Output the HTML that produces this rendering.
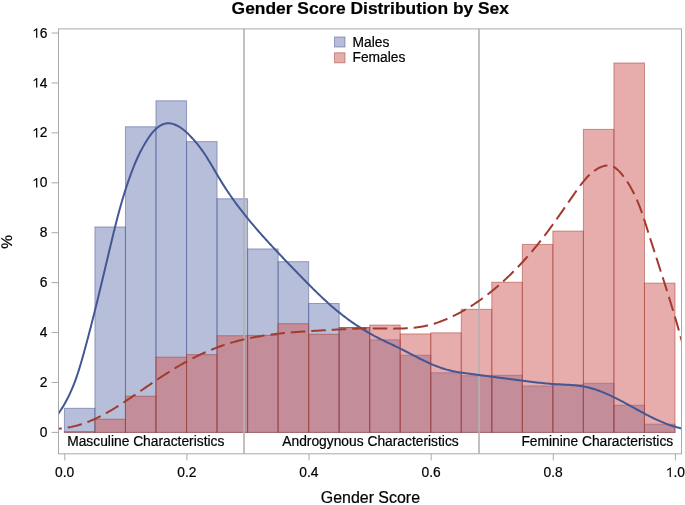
<!DOCTYPE html>
<html><head><meta charset="utf-8"><style>html,body{margin:0;padding:0;background:#fff;width:685px;height:505px;overflow:hidden}</style></head><body>
<svg width="685" height="505" viewBox="0 0 685 505" style="position:absolute;left:0;top:0;will-change:transform">
<style>text,.one{stroke:#000;stroke-width:0.2px}</style>
<rect x="0" y="0" width="685" height="505" fill="#fff"/>
<defs><clipPath id="c"><rect x="58.5" y="28.9" width="623.0" height="424.9"/></clipPath></defs>
<text x="370.3" y="14" text-anchor="middle" font-family='"Liberation Sans", sans-serif' font-weight="bold" font-size="17.4" fill="#000">Gender Score Distribution by Sex</text>
<g clip-path="url(#c)">
<rect x="64.40" y="408.31" width="30.53" height="24.09" fill="rgba(111,126,179,0.5)" stroke="rgba(68,86,148,0.5)" stroke-width="1"/>
<rect x="94.93" y="226.98" width="30.53" height="205.42" fill="rgba(111,126,179,0.5)" stroke="rgba(68,86,148,0.5)" stroke-width="1"/>
<rect x="125.46" y="126.76" width="30.53" height="305.64" fill="rgba(111,126,179,0.5)" stroke="rgba(68,86,148,0.5)" stroke-width="1"/>
<rect x="155.99" y="100.81" width="30.53" height="331.59" fill="rgba(111,126,179,0.5)" stroke="rgba(68,86,148,0.5)" stroke-width="1"/>
<rect x="186.52" y="141.62" width="30.53" height="290.78" fill="rgba(111,126,179,0.5)" stroke="rgba(68,86,148,0.5)" stroke-width="1"/>
<rect x="217.05" y="198.77" width="30.53" height="233.63" fill="rgba(111,126,179,0.5)" stroke="rgba(68,86,148,0.5)" stroke-width="1"/>
<rect x="247.58" y="248.94" width="30.53" height="183.46" fill="rgba(111,126,179,0.5)" stroke="rgba(68,86,148,0.5)" stroke-width="1"/>
<rect x="278.11" y="261.67" width="30.53" height="170.73" fill="rgba(111,126,179,0.5)" stroke="rgba(68,86,148,0.5)" stroke-width="1"/>
<rect x="308.64" y="303.48" width="30.53" height="128.92" fill="rgba(111,126,179,0.5)" stroke="rgba(68,86,148,0.5)" stroke-width="1"/>
<rect x="339.17" y="327.57" width="30.53" height="104.83" fill="rgba(111,126,179,0.5)" stroke="rgba(68,86,148,0.5)" stroke-width="1"/>
<rect x="369.70" y="339.85" width="30.53" height="92.55" fill="rgba(111,126,179,0.5)" stroke="rgba(68,86,148,0.5)" stroke-width="1"/>
<rect x="400.23" y="355.20" width="30.53" height="77.20" fill="rgba(111,126,179,0.5)" stroke="rgba(68,86,148,0.5)" stroke-width="1"/>
<rect x="430.76" y="372.75" width="30.53" height="59.65" fill="rgba(111,126,179,0.5)" stroke="rgba(68,86,148,0.5)" stroke-width="1"/>
<rect x="461.29" y="375.74" width="30.53" height="56.66" fill="rgba(111,126,179,0.5)" stroke="rgba(68,86,148,0.5)" stroke-width="1"/>
<rect x="491.82" y="375.24" width="30.53" height="57.16" fill="rgba(111,126,179,0.5)" stroke="rgba(68,86,148,0.5)" stroke-width="1"/>
<rect x="522.35" y="385.97" width="30.53" height="46.43" fill="rgba(111,126,179,0.5)" stroke="rgba(68,86,148,0.5)" stroke-width="1"/>
<rect x="552.88" y="384.73" width="30.53" height="47.67" fill="rgba(111,126,179,0.5)" stroke="rgba(68,86,148,0.5)" stroke-width="1"/>
<rect x="583.41" y="383.23" width="30.53" height="49.17" fill="rgba(111,126,179,0.5)" stroke="rgba(68,86,148,0.5)" stroke-width="1"/>
<rect x="613.94" y="405.24" width="30.53" height="27.16" fill="rgba(111,126,179,0.5)" stroke="rgba(68,86,148,0.5)" stroke-width="1"/>
<rect x="644.47" y="424.16" width="30.53" height="8.24" fill="rgba(111,126,179,0.5)" stroke="rgba(68,86,148,0.5)" stroke-width="1"/>
<rect x="64.40" y="431.65" width="30.53" height="0.75" fill="rgba(208,91,91,0.5)" stroke="rgba(162,58,46,0.5)" stroke-width="1"/>
<rect x="94.93" y="419.25" width="30.53" height="13.15" fill="rgba(208,91,91,0.5)" stroke="rgba(162,58,46,0.5)" stroke-width="1"/>
<rect x="125.46" y="396.21" width="30.53" height="36.19" fill="rgba(208,91,91,0.5)" stroke="rgba(162,58,46,0.5)" stroke-width="1"/>
<rect x="155.99" y="357.15" width="30.53" height="75.25" fill="rgba(208,91,91,0.5)" stroke="rgba(162,58,46,0.5)" stroke-width="1"/>
<rect x="186.52" y="354.65" width="30.53" height="77.75" fill="rgba(208,91,91,0.5)" stroke="rgba(162,58,46,0.5)" stroke-width="1"/>
<rect x="217.05" y="335.75" width="30.53" height="96.65" fill="rgba(208,91,91,0.5)" stroke="rgba(162,58,46,0.5)" stroke-width="1"/>
<rect x="247.58" y="335.43" width="30.53" height="96.97" fill="rgba(208,91,91,0.5)" stroke="rgba(162,58,46,0.5)" stroke-width="1"/>
<rect x="278.11" y="323.70" width="30.53" height="108.70" fill="rgba(208,91,91,0.5)" stroke="rgba(162,58,46,0.5)" stroke-width="1"/>
<rect x="308.64" y="334.31" width="30.53" height="98.09" fill="rgba(208,91,91,0.5)" stroke="rgba(162,58,46,0.5)" stroke-width="1"/>
<rect x="339.17" y="327.57" width="30.53" height="104.83" fill="rgba(208,91,91,0.5)" stroke="rgba(162,58,46,0.5)" stroke-width="1"/>
<rect x="369.70" y="325.07" width="30.53" height="107.33" fill="rgba(208,91,91,0.5)" stroke="rgba(162,58,46,0.5)" stroke-width="1"/>
<rect x="400.23" y="333.93" width="30.53" height="98.47" fill="rgba(208,91,91,0.5)" stroke="rgba(162,58,46,0.5)" stroke-width="1"/>
<rect x="430.76" y="332.81" width="30.53" height="99.59" fill="rgba(208,91,91,0.5)" stroke="rgba(162,58,46,0.5)" stroke-width="1"/>
<rect x="461.29" y="309.35" width="30.53" height="123.05" fill="rgba(208,91,91,0.5)" stroke="rgba(162,58,46,0.5)" stroke-width="1"/>
<rect x="491.82" y="282.27" width="30.53" height="150.13" fill="rgba(208,91,91,0.5)" stroke="rgba(162,58,46,0.5)" stroke-width="1"/>
<rect x="522.35" y="244.45" width="30.53" height="187.95" fill="rgba(208,91,91,0.5)" stroke="rgba(162,58,46,0.5)" stroke-width="1"/>
<rect x="552.88" y="231.10" width="30.53" height="201.30" fill="rgba(208,91,91,0.5)" stroke="rgba(162,58,46,0.5)" stroke-width="1"/>
<rect x="583.41" y="129.39" width="30.53" height="303.01" fill="rgba(208,91,91,0.5)" stroke="rgba(162,58,46,0.5)" stroke-width="1"/>
<rect x="613.94" y="62.99" width="30.53" height="369.41" fill="rgba(208,91,91,0.5)" stroke="rgba(162,58,46,0.5)" stroke-width="1"/>
<rect x="644.47" y="283.14" width="30.53" height="149.26" fill="rgba(208,91,91,0.5)" stroke="rgba(162,58,46,0.5)" stroke-width="1"/>
<line x1="244.0" y1="28.9" x2="244.0" y2="453.8" stroke="#b2b2b2" stroke-width="1.6"/>
<line x1="479.0" y1="28.9" x2="479.0" y2="453.8" stroke="#b2b2b2" stroke-width="1.6"/>
<path d="M56.47,416.28 L57.70,414.60 L58.88,412.93 L60.03,411.24 L61.14,409.55 L62.21,407.86 L63.25,406.16 L64.26,404.46 L65.23,402.75 L66.18,401.03 L67.09,399.31 L67.97,397.59 L68.83,395.86 L69.66,394.13 L70.46,392.39 L71.24,390.65 L72.00,388.90 L72.73,387.15 L73.44,385.39 L74.13,383.64 L74.80,381.87 L75.45,380.10 L76.09,378.33 L76.71,376.56 L77.31,374.78 L77.90,372.99 L78.48,371.21 L79.04,369.42 L79.60,367.62 L80.14,365.83 L80.68,364.03 L81.21,362.22 L81.73,360.41 L82.25,358.60 L82.76,356.79 L83.27,354.97 L83.77,353.15 L84.28,351.33 L84.78,349.51 L85.28,347.68 L85.78,345.85 L86.27,344.02 L86.76,342.18 L87.26,340.34 L87.75,338.50 L88.23,336.66 L88.72,334.81 L89.20,332.97 L89.69,331.12 L90.17,329.27 L90.65,327.41 L91.12,325.56 L91.60,323.70 L92.07,321.85 L92.54,319.99 L93.02,318.12 L93.49,316.26 L93.95,314.40 L94.42,312.53 L94.89,310.67 L95.35,308.80 L95.81,306.93 L96.27,305.06 L96.73,303.19 L97.19,301.32 L97.65,299.44 L98.11,297.57 L98.57,295.69 L99.02,293.82 L99.48,291.95 L99.93,290.07 L100.38,288.19 L100.83,286.32 L101.28,284.44 L101.73,282.56 L102.18,280.69 L102.63,278.81 L103.08,276.93 L103.53,275.06 L103.98,273.18 L104.42,271.31 L104.87,269.43 L105.31,267.55 L105.76,265.68 L106.21,263.81 L106.65,261.93 L107.09,260.06 L107.54,258.19 L107.98,256.32 L108.43,254.45 L108.87,252.58 L109.31,250.71 L109.76,248.84 L110.20,246.98 L110.65,245.11 L111.09,243.25 L111.54,241.39 L111.98,239.53 L112.43,237.67 L112.88,235.81 L113.33,233.96 L113.79,232.10 L114.24,230.25 L114.70,228.40 L115.16,226.56 L115.63,224.71 L116.09,222.86 L116.56,221.02 L117.04,219.18 L117.52,217.35 L118.00,215.51 L118.49,213.68 L118.98,211.85 L119.48,210.02 L119.98,208.19 L120.49,206.37 L121.01,204.55 L121.53,202.73 L122.05,200.91 L122.59,199.10 L123.13,197.29 L123.67,195.48 L124.23,193.68 L124.79,191.87 L125.36,190.08 L125.94,188.28 L126.52,186.49 L127.12,184.70 L127.72,182.91 L128.34,181.13 L128.96,179.35 L129.59,177.57 L130.23,175.80 L130.88,174.03 L131.54,172.27 L132.21,170.51 L132.90,168.75 L133.59,166.99 L134.30,165.24 L135.02,163.49 L135.76,161.75 L136.51,160.01 L137.29,158.27 L138.09,156.53 L138.91,154.79 L139.75,153.05 L140.62,151.32 L141.52,149.59 L142.45,147.85 L143.41,146.12 L144.40,144.39 L145.43,142.66 L146.49,140.92 L147.59,139.20 L148.72,137.50 L149.90,135.83 L151.12,134.21 L152.39,132.65 L153.70,131.16 L155.06,129.76 L156.46,128.45 L157.92,127.26 L159.42,126.18 L160.97,125.25 L162.55,124.48 L164.18,123.88 L165.84,123.46 L167.53,123.24 L169.25,123.24 L171.00,123.46 L172.77,123.89 L174.52,124.49 L176.24,125.23 L177.91,126.07 L179.51,126.99 L181.02,127.95 L182.45,128.95 L183.81,129.99 L185.10,131.05 L186.34,132.15 L187.54,133.27 L188.69,134.41 L189.82,135.58 L190.93,136.76 L192.03,137.95 L193.13,139.16 L194.22,140.38 L195.30,141.63 L196.38,142.90 L197.45,144.19 L198.51,145.51 L199.56,146.86 L200.59,148.24 L201.62,149.65 L202.64,151.09 L203.65,152.55 L204.64,154.04 L205.63,155.55 L206.61,157.08 L207.59,158.63 L208.56,160.20 L209.52,161.78 L210.49,163.38 L211.45,164.99 L212.41,166.61 L213.37,168.24 L214.33,169.87 L215.29,171.51 L216.26,173.16 L217.23,174.81 L218.20,176.46 L219.18,178.10 L220.17,179.75 L221.17,181.39 L222.17,183.02 L223.19,184.64 L224.22,186.26 L225.26,187.87 L226.30,189.47 L227.36,191.07 L228.42,192.65 L229.50,194.23 L230.58,195.80 L231.68,197.37 L232.78,198.93 L233.89,200.48 L235.01,202.02 L236.14,203.56 L237.27,205.09 L238.42,206.62 L239.57,208.14 L240.73,209.65 L241.90,211.16 L243.07,212.66 L244.25,214.16 L245.44,215.65 L246.64,217.13 L247.84,218.61 L249.05,220.09 L250.26,221.56 L251.49,223.02 L252.71,224.48 L253.95,225.94 L255.18,227.39 L256.43,228.84 L257.68,230.28 L258.93,231.72 L260.19,233.15 L261.46,234.58 L262.73,236.01 L264.00,237.43 L265.28,238.85 L266.56,240.27 L267.85,241.68 L269.14,243.09 L270.43,244.50 L271.73,245.91 L273.03,247.31 L274.34,248.71 L275.64,250.10 L276.95,251.50 L278.27,252.89 L279.58,254.28 L280.90,255.67 L282.22,257.06 L283.54,258.44 L284.86,259.82 L286.19,261.21 L287.51,262.59 L288.84,263.97 L290.17,265.34 L291.50,266.72 L292.83,268.10 L294.17,269.47 L295.50,270.85 L296.83,272.23 L298.16,273.60 L299.50,274.97 L300.83,276.35 L302.17,277.72 L303.50,279.09 L304.84,280.46 L306.18,281.83 L307.52,283.19 L308.87,284.56 L310.21,285.92 L311.57,287.27 L312.92,288.62 L314.28,289.97 L315.65,291.31 L317.02,292.65 L318.39,293.98 L319.77,295.31 L321.16,296.63 L322.55,297.94 L323.95,299.25 L325.36,300.55 L326.77,301.84 L328.20,303.13 L329.63,304.41 L331.07,305.67 L332.52,306.93 L333.98,308.18 L335.44,309.43 L336.92,310.66 L338.41,311.88 L339.91,313.09 L341.42,314.28 L342.94,315.47 L344.47,316.65 L346.01,317.81 L347.56,318.96 L349.12,320.10 L350.68,321.23 L352.26,322.34 L353.84,323.43 L355.43,324.52 L357.03,325.59 L358.63,326.64 L360.24,327.68 L361.86,328.70 L363.48,329.71 L365.11,330.70 L366.74,331.67 L368.37,332.63 L370.02,333.57 L371.66,334.49 L373.31,335.39 L374.97,336.28 L376.62,337.14 L378.28,337.99 L379.94,338.82 L381.61,339.64 L383.28,340.45 L384.95,341.25 L386.62,342.05 L388.30,342.84 L389.98,343.63 L391.67,344.43 L393.35,345.23 L395.04,346.03 L396.74,346.85 L398.44,347.67 L400.14,348.52 L401.84,349.37 L403.55,350.24 L405.26,351.12 L406.98,352.00 L408.69,352.89 L410.42,353.79 L412.14,354.68 L413.87,355.58 L415.61,356.47 L417.34,357.36 L419.08,358.24 L420.83,359.12 L422.58,359.98 L424.33,360.83 L426.09,361.66 L427.85,362.48 L429.61,363.28 L431.38,364.06 L433.16,364.81 L434.93,365.55 L436.71,366.26 L438.50,366.94 L440.29,367.59 L442.08,368.21 L443.88,368.80 L445.68,369.35 L447.49,369.86 L449.30,370.34 L451.12,370.78 L452.94,371.19 L454.77,371.56 L456.60,371.91 L458.43,372.23 L460.27,372.53 L462.11,372.81 L463.96,373.08 L465.81,373.34 L467.67,373.59 L469.53,373.83 L471.40,374.08 L473.27,374.33 L475.15,374.57 L477.03,374.82 L478.92,375.07 L480.81,375.32 L482.70,375.57 L484.60,375.82 L486.50,376.07 L488.40,376.32 L490.31,376.57 L492.22,376.83 L494.13,377.08 L496.05,377.33 L497.97,377.58 L499.89,377.83 L501.81,378.09 L503.73,378.34 L505.66,378.59 L507.58,378.84 L509.51,379.09 L511.44,379.35 L513.37,379.60 L515.31,379.85 L517.24,380.10 L519.17,380.35 L521.10,380.59 L523.04,380.84 L524.97,381.08 L526.90,381.32 L528.83,381.56 L530.76,381.79 L532.70,382.01 L534.62,382.24 L536.55,382.45 L538.48,382.66 L540.41,382.86 L542.33,383.05 L544.25,383.24 L546.17,383.42 L548.09,383.58 L550.00,383.74 L551.92,383.89 L553.83,384.02 L555.73,384.15 L557.64,384.26 L559.54,384.36 L561.44,384.46 L563.33,384.56 L565.22,384.65 L567.10,384.76 L568.98,384.87 L570.86,384.99 L572.73,385.13 L574.60,385.29 L576.46,385.48 L578.32,385.69 L580.17,385.93 L582.02,386.21 L583.86,386.53 L585.69,386.89 L587.52,387.30 L589.35,387.74 L591.16,388.23 L592.97,388.76 L594.78,389.32 L596.57,389.92 L598.36,390.56 L600.14,391.22 L601.92,391.91 L603.68,392.62 L605.44,393.36 L607.19,394.13 L608.94,394.91 L610.67,395.71 L612.40,396.53 L614.12,397.36 L615.84,398.21 L617.55,399.07 L619.26,399.95 L620.96,400.83 L622.66,401.73 L624.35,402.63 L626.05,403.54 L627.73,404.46 L629.42,405.38 L631.11,406.30 L632.79,407.23 L634.48,408.15 L636.16,409.08 L637.85,410.00 L639.53,410.92 L641.22,411.83 L642.91,412.74 L644.60,413.64 L646.29,414.53 L647.99,415.41 L649.69,416.28 L651.40,417.14 L653.11,417.99 L654.83,418.81 L656.55,419.62 L658.28,420.42 L660.01,421.19 L661.76,421.95 L663.51,422.68 L665.26,423.39 L667.03,424.07 L668.81,424.73 L670.59,425.36 L672.39,425.96 L674.20,426.54 L676.01,427.08 L677.84,427.59 L679.69,428.06 L681.54,428.51 L683.41,428.91" fill="none" stroke="#445694" stroke-width="2.0" stroke-linejoin="round"/>
<path d="M56.47,428.75 L58.13,428.68 L59.80,428.58 L61.46,428.44 L63.13,428.26 L64.79,428.05 L66.45,427.81 L68.11,427.53 L69.77,427.22 L71.42,426.89 L73.07,426.52 L74.71,426.12 L76.35,425.69 L77.99,425.24 L79.62,424.75 L81.24,424.25 L82.86,423.71 L84.47,423.15 L86.08,422.57 L87.68,421.97 L89.27,421.34 L90.85,420.69 L92.42,420.02 L93.99,419.33 L95.54,418.62 L97.09,417.89 L98.62,417.15 L100.15,416.38 L101.67,415.60 L103.18,414.81 L104.68,414.00 L106.17,413.18 L107.65,412.34 L109.13,411.49 L110.60,410.63 L112.06,409.76 L113.51,408.88 L114.96,407.99 L116.40,407.10 L117.84,406.19 L119.27,405.28 L120.70,404.36 L122.12,403.43 L123.53,402.51 L124.94,401.57 L126.35,400.64 L127.75,399.70 L129.16,398.76 L130.55,397.82 L131.95,396.87 L133.34,395.93 L134.73,394.98 L136.11,394.03 L137.50,393.08 L138.88,392.14 L140.26,391.19 L141.65,390.24 L143.03,389.29 L144.41,388.34 L145.79,387.39 L147.17,386.44 L148.55,385.49 L149.93,384.55 L151.31,383.61 L152.69,382.67 L154.08,381.73 L155.47,380.79 L156.85,379.86 L158.25,378.93 L159.64,378.00 L161.04,377.08 L162.44,376.16 L163.84,375.24 L165.25,374.33 L166.66,373.42 L168.08,372.52 L169.50,371.62 L170.92,370.73 L172.35,369.84 L173.79,368.96 L175.23,368.09 L176.68,367.22 L178.14,366.36 L179.60,365.50 L181.07,364.66 L182.54,363.82 L184.02,362.98 L185.51,362.16 L187.01,361.34 L188.51,360.54 L190.01,359.74 L191.53,358.95 L193.05,358.16 L194.57,357.39 L196.10,356.63 L197.64,355.88 L199.18,355.14 L200.73,354.40 L202.28,353.68 L203.84,352.97 L205.40,352.27 L206.96,351.59 L208.53,350.91 L210.11,350.25 L211.69,349.60 L213.27,348.96 L214.86,348.33 L216.45,347.72 L218.05,347.12 L219.64,346.53 L221.25,345.96 L222.85,345.40 L224.46,344.86 L226.07,344.33 L227.68,343.81 L229.30,343.31 L230.92,342.82 L232.54,342.35 L234.17,341.89 L235.80,341.44 L237.43,341.01 L239.06,340.58 L240.70,340.17 L242.33,339.78 L243.98,339.39 L245.62,339.02 L247.26,338.66 L248.91,338.30 L250.56,337.96 L252.21,337.63 L253.87,337.32 L255.52,337.01 L257.18,336.71 L258.84,336.42 L260.50,336.14 L262.17,335.87 L263.83,335.61 L265.50,335.36 L267.17,335.11 L268.84,334.88 L270.51,334.65 L272.18,334.43 L273.86,334.22 L275.54,334.02 L277.21,333.82 L278.89,333.63 L280.57,333.45 L282.26,333.27 L283.94,333.10 L285.62,332.94 L287.31,332.78 L289.00,332.62 L290.68,332.48 L292.37,332.33 L294.06,332.20 L295.75,332.06 L297.44,331.93 L299.13,331.81 L300.83,331.69 L302.52,331.57 L304.21,331.45 L305.91,331.34 L307.60,331.23 L309.30,331.13 L310.99,331.03 L312.69,330.92 L314.38,330.83 L316.08,330.73 L317.77,330.63 L319.47,330.54 L321.17,330.44 L322.86,330.35 L324.56,330.26 L326.26,330.17 L327.95,330.07 L329.65,329.98 L331.35,329.89 L333.04,329.80 L334.74,329.70 L336.43,329.61 L338.13,329.52 L339.82,329.42 L341.52,329.33 L343.21,329.24 L344.90,329.16 L346.60,329.07 L348.29,328.99 L349.98,328.91 L351.68,328.84 L353.37,328.77 L355.06,328.71 L356.75,328.65 L358.45,328.60 L360.14,328.56 L361.83,328.52 L363.52,328.49 L365.22,328.47 L366.91,328.46 L368.60,328.45 L370.29,328.45 L371.98,328.46 L373.67,328.47 L375.37,328.48 L377.06,328.50 L378.75,328.52 L380.44,328.54 L382.13,328.56 L383.83,328.58 L385.52,328.60 L387.21,328.62 L388.90,328.63 L390.59,328.64 L392.29,328.64 L393.98,328.63 L395.67,328.62 L397.36,328.60 L399.06,328.57 L400.75,328.53 L402.44,328.47 L404.13,328.41 L405.82,328.33 L407.50,328.23 L409.19,328.12 L410.87,327.99 L412.55,327.84 L414.23,327.68 L415.91,327.49 L417.58,327.27 L419.25,327.04 L420.91,326.78 L422.57,326.49 L424.23,326.18 L425.88,325.84 L427.53,325.47 L429.18,325.07 L430.81,324.64 L432.45,324.19 L434.07,323.70 L435.69,323.19 L437.31,322.66 L438.91,322.10 L440.51,321.51 L442.11,320.91 L443.69,320.28 L445.27,319.63 L446.84,318.96 L448.41,318.28 L449.96,317.58 L451.50,316.86 L453.04,316.13 L454.57,315.38 L456.09,314.62 L457.59,313.84 L459.09,313.06 L460.59,312.26 L462.07,311.44 L463.54,310.61 L465.01,309.77 L466.46,308.92 L467.91,308.05 L469.35,307.18 L470.78,306.29 L472.20,305.38 L473.62,304.47 L475.03,303.54 L476.43,302.60 L477.82,301.66 L479.20,300.70 L480.58,299.72 L481.95,298.74 L483.31,297.75 L484.66,296.74 L486.01,295.73 L487.35,294.71 L488.68,293.67 L490.00,292.63 L491.32,291.57 L492.63,290.51 L493.94,289.44 L495.23,288.35 L496.52,287.26 L497.81,286.16 L499.09,285.05 L500.36,283.93 L501.62,282.80 L502.88,281.67 L504.14,280.53 L505.38,279.37 L506.62,278.21 L507.86,277.05 L509.08,275.87 L510.30,274.69 L511.52,273.50 L512.72,272.30 L513.92,271.10 L515.12,269.89 L516.31,268.67 L517.49,267.45 L518.66,266.22 L519.83,264.99 L520.99,263.74 L522.15,262.50 L523.30,261.24 L524.44,259.99 L525.58,258.72 L526.70,257.45 L527.83,256.18 L528.94,254.90 L530.05,253.62 L531.16,252.33 L532.25,251.04 L533.34,249.74 L534.43,248.44 L535.50,247.14 L536.57,245.83 L537.64,244.52 L538.69,243.20 L539.74,241.88 L540.79,240.56 L541.82,239.24 L542.85,237.91 L543.88,236.58 L544.89,235.25 L545.91,233.92 L546.91,232.58 L547.91,231.24 L548.90,229.90 L549.89,228.56 L550.87,227.21 L551.85,225.87 L552.82,224.52 L553.79,223.17 L554.76,221.82 L555.72,220.46 L556.68,219.10 L557.64,217.75 L558.60,216.39 L559.55,215.02 L560.50,213.66 L561.46,212.30 L562.41,210.93 L563.36,209.56 L564.31,208.19 L565.26,206.82 L566.21,205.45 L567.16,204.07 L568.12,202.70 L569.07,201.32 L570.03,199.94 L570.99,198.56 L571.95,197.18 L572.92,195.80 L573.89,194.41 L574.86,193.03 L575.84,191.64 L576.82,190.25 L577.81,188.87 L578.81,187.49 L579.82,186.12 L580.84,184.75 L581.87,183.41 L582.92,182.08 L583.99,180.77 L585.08,179.49 L586.19,178.23 L587.33,177.01 L588.50,175.82 L589.69,174.66 L590.91,173.55 L592.17,172.48 L593.46,171.45 L594.79,170.48 L596.16,169.56 L597.56,168.71 L598.99,167.93 L600.44,167.24 L601.92,166.65 L603.40,166.17 L604.89,165.81 L606.38,165.59 L607.87,165.52 L609.34,165.60 L610.78,165.85 L612.20,166.28 L613.59,166.90 L614.94,167.68 L616.25,168.62 L617.54,169.69 L618.79,170.87 L620.00,172.14 L621.18,173.49 L622.33,174.90 L623.45,176.34 L624.53,177.81 L625.59,179.30 L626.61,180.80 L627.59,182.30 L628.55,183.82 L629.47,185.34 L630.37,186.86 L631.24,188.38 L632.07,189.91 L632.89,191.45 L633.67,192.99 L634.43,194.53 L635.17,196.07 L635.89,197.62 L636.58,199.17 L637.26,200.72 L637.91,202.28 L638.55,203.84 L639.17,205.40 L639.78,206.97 L640.37,208.53 L640.95,210.10 L641.51,211.68 L642.07,213.25 L642.61,214.83 L643.15,216.41 L643.67,217.99 L644.19,219.57 L644.71,221.16 L645.22,222.74 L645.72,224.33 L646.23,225.92 L646.73,227.51 L647.23,229.10 L647.73,230.70 L648.24,232.29 L648.74,233.89 L649.25,235.48 L649.76,237.08 L650.27,238.68 L650.78,240.28 L651.29,241.88 L651.80,243.48 L652.32,245.08 L652.83,246.68 L653.35,248.29 L653.86,249.89 L654.38,251.50 L654.89,253.10 L655.41,254.71 L655.93,256.32 L656.45,257.92 L656.97,259.53 L657.49,261.14 L658.01,262.75 L658.52,264.36 L659.04,265.98 L659.56,267.59 L660.08,269.20 L660.60,270.81 L661.12,272.43 L661.64,274.04 L662.15,275.66 L662.67,277.27 L663.19,278.89 L663.70,280.51 L664.22,282.12 L664.73,283.74 L665.24,285.36 L665.76,286.98 L666.27,288.60 L666.78,290.22 L667.29,291.84 L667.79,293.45 L668.30,295.07 L668.80,296.69 L669.31,298.32 L669.81,299.94 L670.31,301.56 L670.81,303.18 L671.30,304.80 L671.80,306.42 L672.29,308.04 L672.78,309.66 L673.27,311.29 L673.76,312.91 L674.24,314.53 L674.73,316.15 L675.21,317.77 L675.68,319.40 L676.16,321.02 L676.63,322.64 L677.10,324.26 L677.57,325.88 L678.03,327.51 L678.49,329.13 L678.95,330.75 L679.41,332.37 L679.86,333.99 L680.31,335.61 L680.75,337.23 L681.20,338.85 L681.64,340.47 L682.07,342.09 L682.51,343.71 L682.93,345.33 L683.36,346.95" fill="none" stroke="#a23a2e" stroke-width="2.0" stroke-dasharray="14.55 5.95" stroke-dashoffset="9.21"/>
</g>
<rect x="58.5" y="28.9" width="623.0" height="424.90000000000003" fill="none" stroke="#a9a9a9" stroke-width="1"/>
<g font-family='"Liberation Sans", sans-serif' font-size="13.8" fill="#000">
<text x="67.2" y="446">Masculine Characteristics</text>
<text x="282.3" y="446">Androgynous Characteristics</text>
<text x="521.4" y="446">Feminine Characteristics</text>
<text x="352.5" y="46.7">Males</text>
<text x="352.5" y="62.2">Females</text>
</g>
<rect x="334.5" y="37" width="10.5" height="10" fill="rgba(111,126,179,0.5)" stroke="rgba(68,86,148,0.5)" stroke-width="1"/>
<rect x="334.5" y="52.8" width="10.5" height="10" fill="rgba(208,91,91,0.5)" stroke="rgba(162,58,46,0.5)" stroke-width="1"/>
<g stroke="#a9a9a9" stroke-width="1">
<line x1="51.5" y1="432.40" x2="58.5" y2="432.40"/>
<line x1="51.5" y1="382.48" x2="58.5" y2="382.48"/>
<line x1="51.5" y1="332.56" x2="58.5" y2="332.56"/>
<line x1="51.5" y1="282.64" x2="58.5" y2="282.64"/>
<line x1="51.5" y1="232.72" x2="58.5" y2="232.72"/>
<line x1="51.5" y1="182.80" x2="58.5" y2="182.80"/>
<line x1="51.5" y1="132.88" x2="58.5" y2="132.88"/>
<line x1="51.5" y1="82.96" x2="58.5" y2="82.96"/>
<line x1="51.5" y1="33.04" x2="58.5" y2="33.04"/>
<line x1="64.80" y1="453.8" x2="64.80" y2="460.4"/>
<line x1="186.92" y1="453.8" x2="186.92" y2="460.4"/>
<line x1="309.04" y1="453.8" x2="309.04" y2="460.4"/>
<line x1="431.16" y1="453.8" x2="431.16" y2="460.4"/>
<line x1="553.28" y1="453.8" x2="553.28" y2="460.4"/>
<line x1="675.40" y1="453.8" x2="675.40" y2="460.4"/>
</g>
<g font-family='"Liberation Sans", sans-serif' font-size="13.8" fill="#000">
<text x="39.83" y="437.00">0</text>
<text x="39.83" y="387.08">2</text>
<text x="39.83" y="337.16">4</text>
<text x="39.83" y="287.24">6</text>
<text x="39.83" y="237.32">8</text>
<path class="one" transform="translate(32.15,187.40) scale(0.00674,-0.00674)" d="M763,0 L583,0 L583,1147 Q430,1010 223,922 L223,1096 Q420,1190 560,1330 Q610,1380 646,1409 L763,1409 Z"/>
<text x="39.83" y="187.40">0</text>
<path class="one" transform="translate(32.15,137.48) scale(0.00674,-0.00674)" d="M763,0 L583,0 L583,1147 Q430,1010 223,922 L223,1096 Q420,1190 560,1330 Q610,1380 646,1409 L763,1409 Z"/>
<text x="39.83" y="137.48">2</text>
<path class="one" transform="translate(32.15,87.56) scale(0.00674,-0.00674)" d="M763,0 L583,0 L583,1147 Q430,1010 223,922 L223,1096 Q420,1190 560,1330 Q610,1380 646,1409 L763,1409 Z"/>
<text x="39.83" y="87.56">4</text>
<path class="one" transform="translate(32.15,37.64) scale(0.00674,-0.00674)" d="M763,0 L583,0 L583,1147 Q430,1010 223,922 L223,1096 Q420,1190 560,1330 Q610,1380 646,1409 L763,1409 Z"/>
<text x="39.83" y="37.64">6</text>
<text x="55.11" y="477.00">0.0</text>
<text x="177.23" y="477.00">0.2</text>
<text x="299.35" y="477.00">0.4</text>
<text x="421.47" y="477.00">0.6</text>
<text x="543.59" y="477.00">0.8</text>
<path class="one" transform="translate(665.71,477.00) scale(0.00674,-0.00674)" d="M763,0 L583,0 L583,1147 Q430,1010 223,922 L223,1096 Q420,1190 560,1330 Q610,1380 646,1409 L763,1409 Z"/>
<text x="673.38" y="477.00">.0</text>
</g>
<text x="370.4" y="502.7" text-anchor="middle" font-family='"Liberation Sans", sans-serif' font-size="15.95" fill="#000">Gender Score</text>
<text text-rendering="geometricPrecision" transform="translate(12.4,241.8) rotate(-90)" text-anchor="middle" font-family='"Liberation Sans", sans-serif' font-size="15.4" fill="#000">%</text>
</svg>
</body></html>
